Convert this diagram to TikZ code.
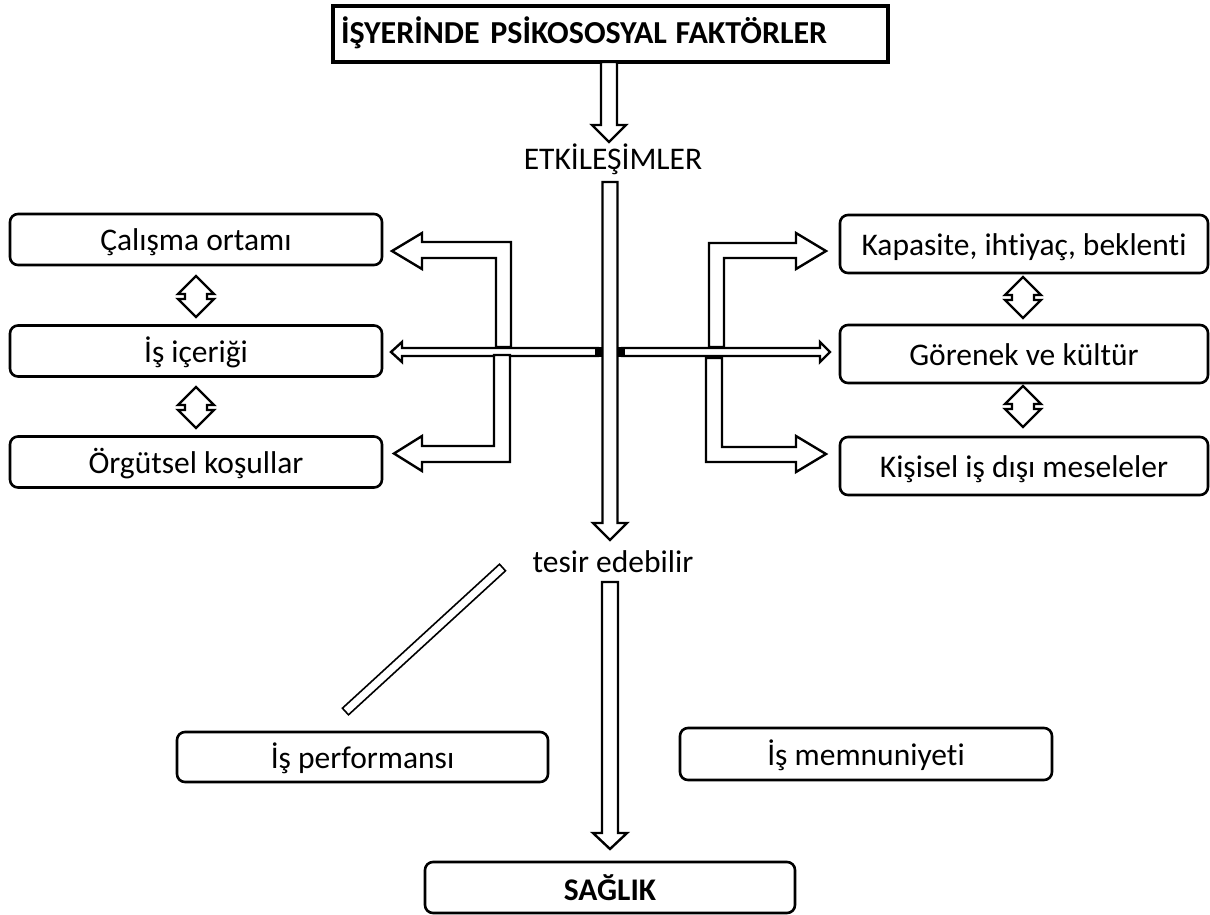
\documentclass[tikz,border=0pt]{standalone}
\usepackage{fontspec}
\setmainfont{Carlito}[Ligatures={NoCommon}]
\newcommand\vdownblk[6]{% x, ytop, ybase, ytip, shaft half, head half
  \draw[blk] ({#1-#5},#2) -- ({#1-#5},#3) -- ({#1-#6},#3) -- (#1,#4) -- ({#1+#6},#3) -- ({#1+#5},#3) -- ({#1+#5},#2) -- cycle;}
\newcommand\updownblk[2]{% cx, top
  \draw[blk] (#1,#2) -- ({#1+18},{#2+18}) -- ({#1+11},{#2+18}) -- ({#1+11},{#2+23}) -- ({#1+18},{#2+23}) -- (#1,{#2+41})
   -- ({#1-18},{#2+23}) -- ({#1-11},{#2+23}) -- ({#1-11},{#2+18}) -- ({#1-18},{#2+18}) -- cycle;}
\begin{document}
\begin{tikzpicture}[x=1pt,y=-1pt,
  txt/.style={font=\fontsize{31.5}{38}\selectfont},
  box/.style={draw,rounded corners=8pt,line width=2.6pt,inner sep=0pt,text height=22pt,text depth=0pt,txt},
  blk/.style={draw,fill=white,line width=2.4pt,line join=miter},
  lbl/.style={inner sep=0pt,anchor=base,txt}]
\useasboundingbox (0,0) rectangle (1210,914);
% title
\node[draw,line width=3.5pt,minimum height=56pt,text width=539pt,inner xsep=8pt,inner ysep=0pt,align=left,
      text height=18pt,text depth=0pt,font=\fontsize{32}{38}\selectfont\bfseries] (title) at (610.5,34) {İŞYERİNDE PSİKOSOSYAL\hspace{-2pt} FAKTÖRLER};
% free labels
\node[lbl] (etk) at (613,169) {ETKİLEŞİMLER};
\node[lbl] (tesir) at (613,572) {tesir edebilir};
% left boxes
\node[box,minimum width=372pt,minimum height=51pt] (calisma) at (196,239.5) {Çalışma ortamı};
\node[box,minimum width=372pt,minimum height=51pt] (icerik) at (196,351) {İş içeriği};
\node[box,minimum width=372pt,minimum height=51pt] (orgut) at (196,462) {Örgütsel koşullar};
% right boxes
\node[box,minimum width=368pt,minimum height=58pt] (kapasite) at (1024,244) {Kapasite, ihtiyaç, beklenti};
\node[box,minimum width=368pt,minimum height=58pt] (gorenek) at (1024,354) {Görenek ve kültür};
\node[box,minimum width=368pt,minimum height=58pt] (kisisel) at (1024,466) {Kişisel iş dışı meseleler};
% bottom boxes
\node[box,minimum width=371pt,minimum height=50pt] (perf) at (362.5,757) {İş performansı};
\node[box,minimum width=372pt,minimum height=52pt] (memn) at (866,754) {İş memnuniyeti};
\node[box,minimum width=370pt,minimum height=51pt,text height=25pt,font=\fontsize{31.5}{38}\selectfont\bfseries] (saglik) at (610,887.5) {SAĞLIK};
% top arrow: title -> etk
\vdownblk{609}{62}{125}{142}{8}{17}
% thin horizontal arrows
\draw[blk] (598,348) -- (402,348) -- (402,342) -- (391,352) -- (402,362) -- (402,356) -- (598,356) -- cycle;
\draw[blk] (622,348) -- (820,348) -- (820,342) -- (830,352) -- (820,362) -- (820,356) -- (622,356) -- cycle;
\fill (595,347) rectangle (602,357);
\fill (617,347) rectangle (625,357);
% elbow arrows left
\draw[blk] (496,347) -- (496,258) -- (422,258) -- (422,269) -- (392,251) -- (422,233) -- (422,242) -- (511,242) -- (511,347) -- cycle;
\draw[blk] (494,355) -- (494,446) -- (422,446) -- (422,436) -- (394,453.5) -- (422,471) -- (422,462) -- (510,462) -- (510,355) -- cycle;
% elbow arrows right
\draw[blk] (709,347) -- (709,243) -- (796,243) -- (796,233) -- (826,251) -- (796,269) -- (796,258) -- (724,258) -- (724,347) -- cycle;
\draw[blk] (706,358) -- (706,462) -- (796,462) -- (796,472) -- (826,454) -- (796,436) -- (796,447) -- (722,447) -- (722,358) -- cycle;
% main vertical: etk -> tesir
\vdownblk{610}{182}{523}{540}{7.5}{17}
% tesir -> saglik
\vdownblk{610}{582}{833}{849}{8}{17}
% double arrows
\updownblk{196}{276}
\updownblk{196}{387}
\updownblk{1023}{277}
\updownblk{1023}{386}
% diagonal bar
\draw[line width=1.6pt,fill=white] (499.5,564.2) -- (505.5,570.8) -- (348.5,714.8) -- (342.4,708.2) -- cycle;
\end{tikzpicture}
\end{document}
